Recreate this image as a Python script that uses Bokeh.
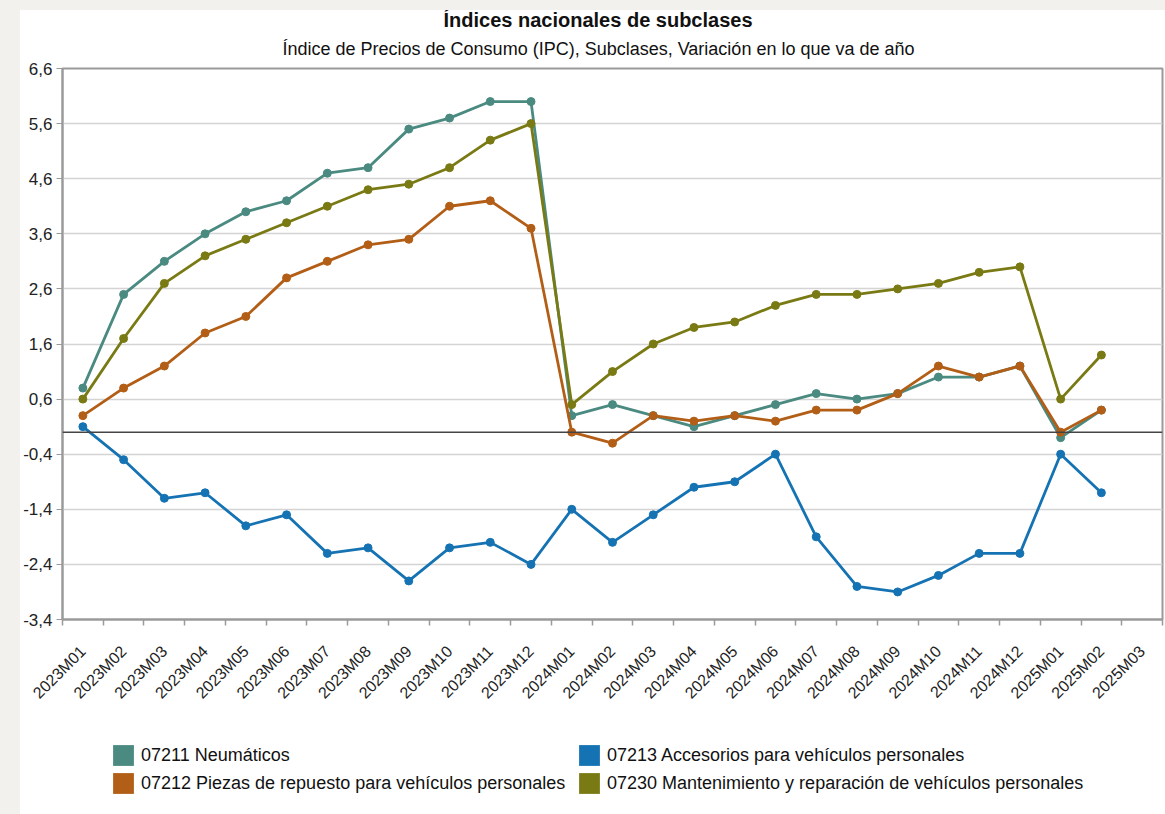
import numpy as np
from bokeh.plotting import figure
from bokeh.layouts import column, row
from bokeh.models import (ColumnDataSource, FixedTicker, Span, Legend, LegendItem,
                          Title, Range1d, Spacer)
from bokeh.embed import file_html
from bokeh.resources import INLINE

# ---------------- data ----------------
months = ["2023M01", "2023M02", "2023M03", "2023M04", "2023M05", "2023M06",
          "2023M07", "2023M08", "2023M09", "2023M10", "2023M11", "2023M12",
          "2024M01", "2024M02", "2024M03", "2024M04", "2024M05", "2024M06",
          "2024M07", "2024M08", "2024M09", "2024M10", "2024M11", "2024M12",
          "2025M01", "2025M02", "2025M03"]

neumaticos = [0.8, 2.5, 3.1, 3.6, 4.0, 4.2, 4.7, 4.8, 5.5, 5.7, 6.0, 6.0,
              0.3, 0.5, 0.3, 0.1, 0.3, 0.5, 0.7, 0.6, 0.7, 1.0, 1.0, 1.2,
              -0.1, 0.4]
piezas = [0.3, 0.8, 1.2, 1.8, 2.1, 2.8, 3.1, 3.4, 3.5, 4.1, 4.2, 3.7,
          0.0, -0.2, 0.3, 0.2, 0.3, 0.2, 0.4, 0.4, 0.7, 1.2, 1.0, 1.2,
          0.0, 0.4]
accesorios = [0.1, -0.5, -1.2, -1.1, -1.7, -1.5, -2.2, -2.1, -2.7, -2.1, -2.0, -2.4,
              -1.4, -2.0, -1.5, -1.0, -0.9, -0.4, -1.9, -2.8, -2.9, -2.6, -2.2, -2.2,
              -0.4, -1.1]
mantenimiento = [0.6, 1.7, 2.7, 3.2, 3.5, 3.8, 4.1, 4.4, 4.5, 4.8, 5.3, 5.6,
                 0.5, 1.1, 1.6, 1.9, 2.0, 2.3, 2.5, 2.5, 2.6, 2.7, 2.9, 3.0,
                 0.6, 1.4]

series_names = ["07211 Neumáticos",
                "07212 Piezas de repuesto para vehículos personales",
                "07213 Accesorios para vehículos personales",
                "07230 Mantenimiento y reparación de vehículos personales"]
series_values = [neumaticos, piezas, accesorios, mantenimiento]
series_colors = ["#4a8a80", "#b35e16", "#1673b3", "#7a7a14"]

y_ticks = [-3.4, -2.4, -1.4, -0.4, 0.6, 1.6, 2.6, 3.6, 4.6, 5.6, 6.6]
y_tick_labels = ["-3,4", "-2,4", "-1,4", "-0,4", "0,6", "1,6", "2,6", "3,6",
                 "4,6", "5,6", "6,6"]

title_text = "Índices nacionales de subclases"
subtitle_text = "Índice de Precios de Consumo (IPC), Subclases, Variación en lo que va de año"

FONT = "Liberation Sans"
PAGE_BG = "#f3f1ee"

# ---------------- main figure ----------------
n = len(months)
p = figure(width=1145, height=726, x_range=Range1d(0, n), y_range=Range1d(y_ticks[0], y_ticks[-1]),
           output_backend="svg", toolbar_location=None,
           min_border_left=42, min_border_right=3, min_border_top=56, min_border_bottom=117)
p.background_fill_color = "white"
p.border_fill_color = "white"
p.outline_line_color = "#9a9a9a"
p.outline_line_width = 2

p.title = Title(text=title_text, align="left", offset=381, text_font=FONT, text_font_size="20px",
                text_font_style="bold", text_color="#111111", standoff=-8)
p.add_layout(Title(text=subtitle_text, align="left", offset=220, text_font=FONT,
                   text_font_size="18px", text_font_style="normal", text_color="#111111",
                   standoff=20), "above")

# grid
p.xgrid.visible = False
p.ygrid.ticker = FixedTicker(ticks=y_ticks)
p.ygrid.grid_line_color = "#d4d4d4"
p.ygrid.grid_line_width = 1.5

# y axis
p.yaxis.ticker = FixedTicker(ticks=y_ticks)
p.yaxis.major_label_overrides = {t: l for t, l in zip(y_ticks, y_tick_labels)}
p.yaxis.major_label_text_font = FONT
p.yaxis.major_label_text_font_size = "17px"
p.yaxis.major_label_text_color = "#222222"
p.yaxis.major_label_standoff = 4
p.yaxis.axis_line_color = "#9a9a9a"
p.yaxis.axis_line_width = 2
p.yaxis.major_tick_line_color = "#9a9a9a"
p.yaxis.major_tick_out = 6
p.yaxis.major_tick_in = 0
p.yaxis.minor_tick_line_color = None

# x axis: labels at centres, ticks at boundaries
centers = [i + 0.5 for i in range(n)]
p.xaxis.ticker = FixedTicker(ticks=centers, minor_ticks=list(range(n + 1)))
p.xaxis.major_label_overrides = {c: m for c, m in zip(centers, months)}
p.xaxis.major_label_orientation = np.pi / 4
p.xaxis.major_label_text_font = FONT
p.xaxis.major_label_text_font_size = "16px"
p.xaxis.major_label_text_color = "#222222"
p.xaxis.major_label_standoff = 23
p.xaxis.major_tick_out = 0
p.xaxis.major_tick_in = 0
p.xaxis.minor_tick_out = 6
p.xaxis.minor_tick_in = 0
p.xaxis.minor_tick_line_color = "#9a9a9a"
p.xaxis.minor_tick_line_width = 1.5
p.xaxis.axis_line_color = "#9a9a9a"
p.xaxis.axis_line_width = 2

# zero line
p.add_layout(Span(location=0, dimension="width", line_color="#444444", line_width=1.5))

# ---------------- legend figure ----------------
lf = figure(width=1145, height=78, x_range=Range1d(0, n), y_range=Range1d(y_ticks[0], y_ticks[-1]),
            output_backend="svg", toolbar_location=None,
            x_axis_location=None, y_axis_location=None,
            min_border_left=0, min_border_right=0, min_border_top=0, min_border_bottom=0)
lf.xgrid.visible = False
lf.ygrid.visible = False
lf.outline_line_color = None
lf.background_fill_color = "white"
lf.border_fill_color = "white"

# series
swatches = []
for name, vals, col in zip(series_names, series_values, series_colors):
    src = ColumnDataSource(dict(x=[i + 0.5 for i in range(len(vals))], y=vals))
    p.line("x", "y", source=src, line_color=col, line_width=2.8)
    p.scatter("x", "y", source=src, size=8, fill_color=col, line_color=col)
    # zero-size rects: invisible, only provide square legend swatches
    sw = lf.rect(x="x", y="y", width=0, height=0, source=src, fill_color=col, line_color=None)
    swatches.append(LegendItem(label=name, renderers=[sw]))

legend = Legend(items=swatches, ncols=2, location=(48, 18),
                glyph_width=26, glyph_height=26, label_standoff=5, spacing=2,
                label_text_font=FONT, label_text_font_size="18px", label_text_color="#111111",
                border_line_color=None, background_fill_alpha=0, margin=0, padding=0,
                label_height=26, label_width=433)
lf.add_layout(legend, "center")

# page background strips (left and top) as in the reference screenshot
left_strip = Spacer(width=20, height=814, styles={"background-color": PAGE_BG})
top_strip = Spacer(width=1145, height=10, styles={"background-color": PAGE_BG})

layout = row(left_strip, column(top_strip, p, lf, spacing=0), spacing=0)
open("out.html", "w").write(file_html(layout, INLINE))
